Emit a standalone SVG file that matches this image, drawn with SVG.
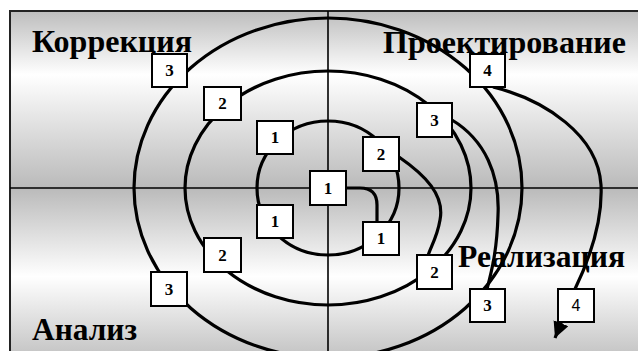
<svg xmlns="http://www.w3.org/2000/svg" width="638" height="351" viewBox="0 0 638 351">
<defs>
<linearGradient id="gTop" x1="0" y1="11" x2="0" y2="188" gradientUnits="userSpaceOnUse">
<stop offset="0" stop-color="#bdbdbd"/><stop offset="0.36" stop-color="#ffffff"/><stop offset="1" stop-color="#bababa"/>
</linearGradient>
<linearGradient id="gBot" x1="0" y1="188" x2="0" y2="365" gradientUnits="userSpaceOnUse">
<stop offset="0" stop-color="#bababa"/><stop offset="0.5" stop-color="#ffffff"/><stop offset="1" stop-color="#bdbdbd"/>
</linearGradient>
<marker id="arr" markerWidth="17" markerHeight="17" refX="16" refY="8" orient="auto" markerUnits="userSpaceOnUse">
<path d="M0,0 L16,8 L0,16 z" fill="#000"/>
</marker>
<style>
.lbl{font-family:"Liberation Serif","Times New Roman",serif;font-weight:bold;font-size:32px;fill:#000}
.ring{fill:none;stroke:#000;stroke-width:3.2}
.axis{stroke:#000;stroke-width:1.6}
.box rect{fill:#fff;stroke:#000;stroke-width:2}
.box text{font-family:"Liberation Serif","Times New Roman",serif;font-weight:bold;font-size:17px;text-anchor:middle;fill:#000}
</style>
</defs>
<rect x="0" y="0" width="638" height="351" fill="#fff"/>
<rect x="10" y="11" width="640" height="177" fill="url(#gTop)"/>
<rect x="10" y="188" width="640" height="177" fill="url(#gBot)"/>
<rect x="10" y="11" width="640" height="360" fill="none" stroke="#222" stroke-width="2"/>
<line class="axis" x1="10" y1="188" x2="638" y2="188"/>
<line class="axis" x1="328" y1="11" x2="328" y2="351"/>
<g id="labels">
<text class="lbl" x="32" y="52" textLength="160" lengthAdjust="spacingAndGlyphs">Коррекция</text>
<text class="lbl" x="383" y="53" textLength="243" lengthAdjust="spacingAndGlyphs">Проектирование</text>
<text class="lbl" x="458" y="267" textLength="167" lengthAdjust="spacingAndGlyphs">Реализация</text>
<text class="lbl" x="32" y="340" textLength="105" lengthAdjust="spacingAndGlyphs">Анализ</text>
</g>
<g id="connectors">
<ellipse class="ring" cx="328" cy="188" rx="71" ry="67"/>
<ellipse class="ring" cx="328" cy="188" rx="143" ry="117"/>
<ellipse class="ring" cx="328" cy="188" rx="194" ry="170"/>
<path class="ring" d="M346,188 L360,188 Q377,188 377,205 L377,222"/>
<path class="ring" d="M399,157 C425,175 445,195 440,220 C437,238 430,248 428,256"/>
<path class="ring" d="M452,120 C485,140 500,175 498,215 C497,250 492,270 487,289"/>
<path class="ring" d="M493,87 C545,100 598,135 601,185 C603,225 588,262 575,289 L555,338" marker-end="url(#arr)"/>
</g>
<g id="n_c1" class="box"><rect x="310" y="171" width="36" height="34"/><text x="328" y="194">1</text></g>
<g id="n_ul1" class="box"><rect x="257" y="121" width="36" height="33"/><text x="275" y="143">1</text></g>
<g id="n_ll1" class="box"><rect x="257" y="205" width="36" height="33"/><text x="275" y="227">1</text></g>
<g id="n_lr1" class="box"><rect x="363" y="222" width="36" height="33"/><text x="381" y="244">1</text></g>
<g id="n_ur2" class="box"><rect x="363" y="137" width="36" height="34"/><text x="381" y="160">2</text></g>
<g id="n_ul2" class="box"><rect x="204" y="87" width="37" height="33"/><text x="222.5" y="109">2</text></g>
<g id="n_ll2" class="box"><rect x="204" y="238" width="37" height="34"/><text x="222.5" y="261">2</text></g>
<g id="n_lr2" class="box"><rect x="417" y="255" width="35" height="34"/><text x="434.5" y="278">2</text></g>
<g id="n_ur3" class="box"><rect x="417" y="103" width="35" height="34"/><text x="434.5" y="126">3</text></g>
<g id="n_ul3" class="box"><rect x="152" y="54" width="35" height="33"/><text x="169.5" y="76">3</text></g>
<g id="n_ll3" class="box"><rect x="151" y="272" width="36" height="34"/><text x="169" y="295">3</text></g>
<g id="n_lr3" class="box"><rect x="470" y="289" width="35" height="33"/><text x="487.5" y="311">3</text></g>
<g id="n_ur4" class="box"><rect x="470" y="54" width="35" height="33"/><text x="487.5" y="76">4</text></g>
<g id="n_lr4" class="box"><rect x="558" y="289" width="36" height="33"/><text x="576" y="311" style="font-family:'Liberation Sans',Arial,sans-serif;font-weight:normal;font-size:16px">4</text></g>
</svg>
